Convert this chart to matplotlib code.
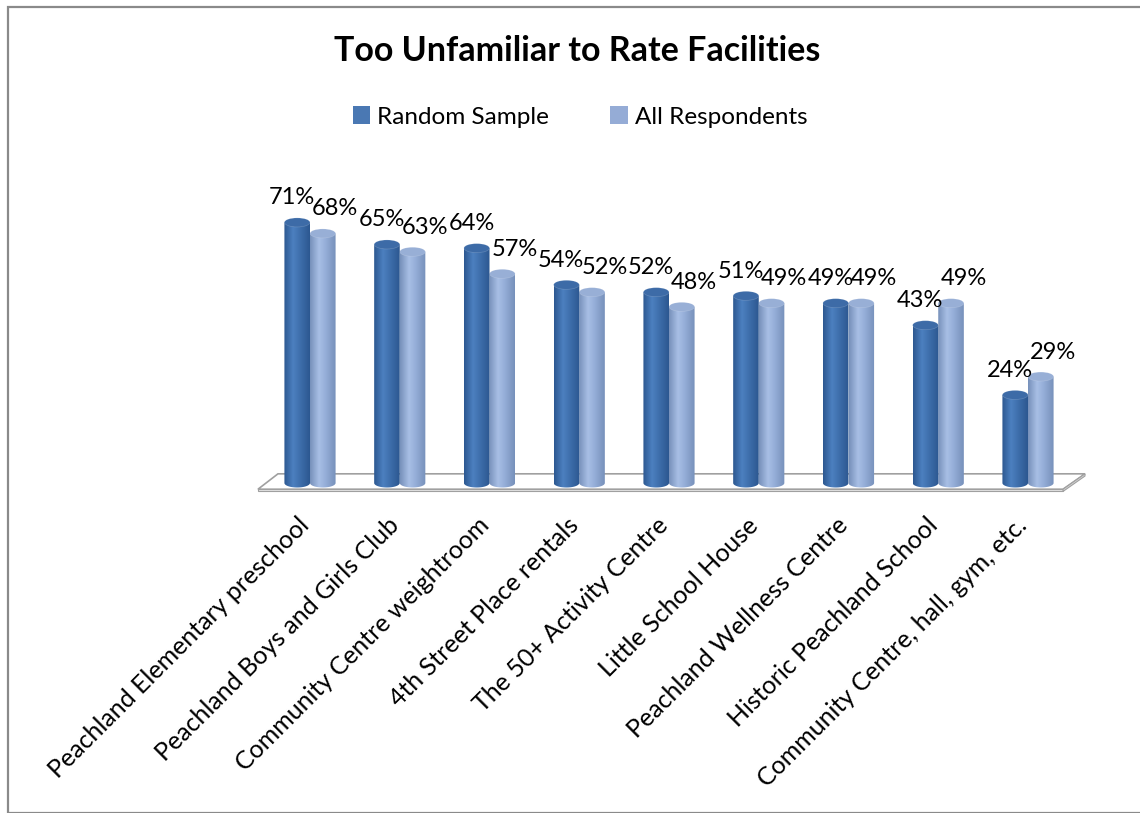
import numpy as np
import matplotlib
matplotlib.use("Agg")
import matplotlib.pyplot as plt
from matplotlib.patches import Polygon, Ellipse, PathPatch, Rectangle, Patch
from matplotlib.path import Path
from matplotlib.colors import LinearSegmentedColormap

plt.rcParams['font.family'] = ['Lato', 'DejaVu Sans']

categories = ["Peachland Elementary preschool", "Peachland Boys and Girls Club",
              "Community Centre weightroom", "4th Street Place rentals",
              "The 50+ Activity Centre", "Little School House",
              "Peachland Wellness Centre", "Historic Peachland School",
              "Community Centre, hall, gym, etc."]
random_sample = [71, 65, 64, 54, 52, 51, 49, 43, 24]
all_respondents = [68, 63, 57, 52, 48, 49, 49, 49, 29]
series_names = ["Random Sample", "All Respondents"]
title = "Too Unfamiliar to Rate Facilities"

W, H = 1140, 813
fig = plt.figure(figsize=(W / 100, H / 100), dpi=100)
ax = fig.add_axes([0, 0, 1, 1])
ax.set_axis_off()

# mapping: group spacing 89.75 px, 3.67 px per percent
px_x, px_y = 89.75, 3.67
x0_px, base_px = 310, 483
xlim = (-x0_px / px_x, (W - x0_px) / px_x)
ylim = (-(H - base_px) / px_y, base_px / px_y)

# floor
fl_front, fl_back = -1.7, 2.5
th = 0.6
ax.add_patch(Polygon([(-0.58, fl_front), (8.39, fl_front), (8.635, fl_back), (-0.357, fl_back)],
                     closed=True, facecolor='white', edgecolor='#a0a0a0', lw=1.2, zorder=1))
ax.add_patch(Rectangle((-0.58, fl_front - th), 8.97, th, facecolor='#e4e4e4',
                       edgecolor='#a0a0a0', lw=0.8, zorder=1))
ax.add_patch(Polygon([(8.39, fl_front - th), (8.39, fl_front), (8.635, fl_back), (8.635, fl_back - th)],
                     closed=True, facecolor='#d8d8d8', edgecolor='#a0a0a0', lw=0.8, zorder=1))

bw = 0.285
eh = 9 / px_y  # ellipse height in data units


def grad_cmap(edge, mid, light):
    return LinearSegmentedColormap.from_list('g', [(0, edge), (0.35, light), (0.6, mid), (1, edge)])


cm_dark = grad_cmap('#2c5790', '#3f70ad', '#4c80c0')
cm_light = grad_cmap('#7690ba', '#95aed8', '#a8bfe5')
top_dark, top_light = '#3d6ba7', '#98afd6'
grad = np.linspace(0, 1, 256).reshape(1, -1)


def cylinder(xl, v, cmap, topc, z):
    xr = xl + bw
    xc = xl + bw / 2
    t = np.linspace(np.pi, 2 * np.pi, 60)
    bottom = [(xc + bw / 2 * np.cos(a), eh / 2 * np.sin(a)) for a in t]
    verts = [(xl, v)] + bottom + [(xr, v), (xl, v)]
    pp = PathPatch(Path(verts), facecolor='none', edgecolor='none', zorder=z)
    ax.add_patch(pp)
    im = ax.imshow(grad, cmap=cmap, extent=(xl, xr, -eh, v), aspect='auto',
                   interpolation='bilinear', zorder=z)
    im.set_clip_path(pp)
    ax.add_patch(Ellipse((xc, v), bw, eh, facecolor=topc, edgecolor='#ffffff30', lw=0.5, zorder=z + 0.1))


lab_up = 18 / px_y
for i, (a, b) in enumerate(zip(random_sample, all_respondents)):
    cylinder(i - bw, a, cm_dark, top_dark, 3)
    cylinder(i, b, cm_light, top_light, 2)
    ax.text(i - 0.20, a + lab_up, f"{a}%", ha='center', va='baseline', fontsize=17, zorder=5)
    ax.text(i + 0.28, b + lab_up, f"{b}%", ha='center', va='baseline', fontsize=17, zorder=5)
    ax.text(i - 0.05, -10.5, categories[i], rotation=45, rotation_mode='anchor',
            ha='right', va='center', fontsize=18, zorder=5)

ax.set_xlim(*xlim)
ax.set_ylim(*ylim)

fig.text(577 / W, 1 - 51 / H, title, ha='center', va='center', fontsize=24.5, fontweight='bold')

handles = [Patch(facecolor='#4a78b3', edgecolor='none'), Patch(facecolor='#95acd6', edgecolor='none')]
fig.legend(handles, series_names, loc='center', bbox_to_anchor=(580 / W, 1 - 117 / H), ncol=2,
           frameon=False, fontsize=17.5, handlelength=0.72, handleheight=0.72, handletextpad=0.3,
           columnspacing=2.5)

fig.patches.append(Rectangle((8 / W, 0.5 / H), (W + 10) / W, (H - 8) / H, transform=fig.transFigure,
                             facecolor='none', edgecolor='#8a8a8a', lw=1.6, zorder=10))

fig.savefig("out.png", dpi=100)
